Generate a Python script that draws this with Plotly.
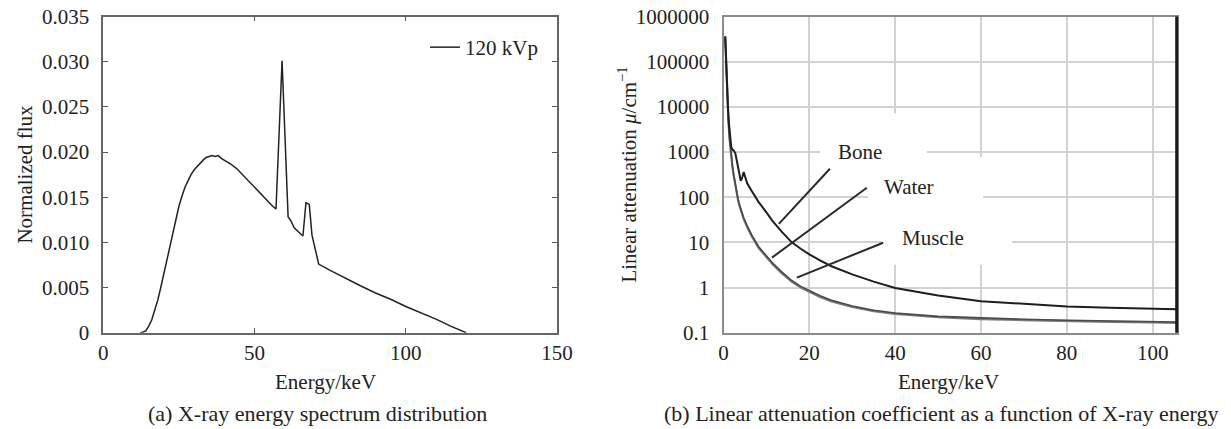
import plotly.graph_objects as go
import math

# ---------------- data ----------------
# (a) X-ray energy spectrum, 120 kVp
spec_energy = [12.2, 13, 14, 15, 16, 17, 18, 19, 20, 21, 22, 23, 24, 25, 26, 27, 28,
               29, 30, 31, 32, 33, 34, 35, 36, 37, 38, 39, 40, 42, 44, 46, 48, 50, 52,
               54, 56, 57.1, 59.1, 61.1, 62.0, 63.1, 66.0, 67.0, 68.1, 69.0, 70.1, 71.2,
               75, 80.6, 85, 90, 95, 100, 105, 110, 115, 120]
spec_flux = [0, 0.00005, 0.0002, 0.0007, 0.0014, 0.0024, 0.0036, 0.0050, 0.0065,
             0.0080, 0.0096, 0.0112, 0.0127, 0.0140, 0.0151, 0.0161, 0.0168, 0.0175,
             0.0180, 0.0184, 0.0188, 0.0191, 0.0194, 0.0195, 0.0196, 0.0195, 0.0196,
             0.0193, 0.0191, 0.0187, 0.0182, 0.0175, 0.0167, 0.0161, 0.0153, 0.0146,
             0.0140, 0.0137, 0.0301, 0.0128, 0.0124, 0.0116, 0.0107, 0.0144, 0.0142,
             0.0108, 0.0093, 0.0076, 0.0069, 0.0059, 0.0052, 0.0044, 0.0037, 0.0029,
             0.0022, 0.0015, 0.0007, 0]
spec_name = "120 kVp"
spec_xticks = [0, 50, 100, 150]
spec_yticks = [0, 0.005, 0.010, 0.015, 0.020, 0.025, 0.030, 0.035]
spec_yticktext = ["0", "0.005", "0.010", "0.015", "0.020", "0.025", "0.030", "0.035"]

# (b) linear attenuation coefficient
att_energy = [0.4, 0.6, 0.8, 1.0, 1.2, 1.4, 1.6, 1.8, 2.1, 2.4, 2.75, 3.1, 3.4, 3.7, 4.0,
              4.3, 4.7, 5.5, 6.5, 8.2, 10, 11.4, 13.5, 15.9, 18, 20, 22.5, 25, 30, 35,
              40, 50, 60, 70, 80, 90, 100, 105.6]
att_bone = [3.6e5, 9e4, 2.8e4, 1.1e4, 5000, 2700, 1600, 1300, 1130, 1070, 950, 680, 470,
            330, 230, 260, 360, 205, 140, 78, 46, 30, 17.5, 10, 7.2, 5.4, 4.0, 3.0, 1.95,
            1.35, 0.98, 0.67, 0.50, 0.43, 0.38, 0.355, 0.337, 0.33]
att_water = [3.6e5, 8.5e4, 2.5e4, 9000, 4000, 2000, 1150, 750, 450, 290, 185, 110, 85,
             66, 52, 42, 33, 22, 14, 7.5, 4.6, 3.3, 2.1, 1.35, 1.0, 0.8, 0.62, 0.5, 0.37,
             0.30, 0.26, 0.22, 0.20, 0.19, 0.18, 0.174, 0.168, 0.165]
att_muscle = [3.6e5, 8.8e4, 2.6e4, 9400, 4200, 2100, 1200, 790, 475, 305, 195, 118, 90,
              70, 55, 45, 35, 23.5, 15, 8.0, 4.9, 3.5, 2.25, 1.43, 1.06, 0.85, 0.66, 0.53,
              0.39, 0.315, 0.273, 0.23, 0.21, 0.198, 0.188, 0.181, 0.175, 0.172]
att_xticks = [0, 20, 40, 60, 80, 100]
att_yticks = [0.1, 1, 10, 100, 1000, 10000, 100000, 1000000]
att_yticktext = ["0.1", "1", "10", "100", "1000", "10000", "100000", "1000000"]

# labels of the curves: text, text anchor (x, y), leader line (x0, y0, x1, y1)
curve_labels = ["Bone", "Water", "Muscle"]
label_x = [26.2, 37.0, 41.1]
label_y = [980, 164, 12.6]
leader_x0 = [24.8, 33.4, 37.2]
leader_y0 = [427, 162, 9.8]
leader_x1 = [12.9, 11.3, 17.1]
leader_y1 = [25.7, 4.6, 1.66]
# white label boxes (x0, x1, y0, y1)
box_x0 = [22.5, 33.7, 36.9]
box_x1 = [47.4, 60.5, 67.2]
box_y0 = [436, 45.6, 3.19]
box_y1 = [7240, 762, 50.5]

captions = ["(a) X-ray energy spectrum distribution",
            "(b) Linear attenuation coefficient as a function of X-ray energy"]

# ---------------- figure ----------------
W, H = 1231, 429
FONT = "Liberation Serif, Times New Roman, serif"
TXT = "#222222"
TS = 21  # tick / label font size


def fx(p):
    return p / W


def fy(p):
    return 1 - p / H


ax1 = [fx(103.3), fx(557)]
ax2 = [fx(723.5), fx(1176.7)]
ydom = [fy(332.7), fy(16.5)]

fig = go.Figure()
fig.add_trace(go.Scatter(x=spec_energy, y=spec_flux, mode="lines", name=spec_name,
                         line=dict(color="#222222", width=1.5), xaxis="x", yaxis="y"))
fig.add_trace(go.Scatter(x=att_energy, y=att_water, mode="lines", name="Water",
                         line=dict(color="#7a7a7a", width=2.2), xaxis="x2", yaxis="y2",
                         showlegend=False))
fig.add_trace(go.Scatter(x=att_energy, y=att_muscle, mode="lines", name="Muscle",
                         line=dict(color="#4a4a4a", width=1.6), xaxis="x2", yaxis="y2",
                         showlegend=False))
fig.add_trace(go.Scatter(x=att_energy, y=att_bone, mode="lines", name="Bone",
                         line=dict(color="#1e1e1e", width=2), xaxis="x2", yaxis="y2",
                         showlegend=False))

shapes = []
for i in range(len(curve_labels)):
    shapes.append(dict(type="rect", xref="x2", yref="y2", x0=box_x0[i], x1=box_x1[i],
                       y0=box_y0[i], y1=box_y1[i], fillcolor="white",
                       line=dict(width=0), layer="between"))
for i in range(len(curve_labels)):
    shapes.append(dict(type="line", xref="x2", yref="y2", x0=leader_x0[i], y0=leader_y0[i],
                       x1=leader_x1[i], y1=leader_y1[i],
                       line=dict(color="#2a2a2a", width=2)))
# dark right border of panel (b)
shapes.append(dict(type="line", xref="x2 domain", yref="y2 domain", x0=1, x1=1, y0=0, y1=1,
                   line=dict(color="#1a1a1a", width=3)))

annotations = []
for i, t in enumerate(curve_labels):
    annotations.append(dict(text=t, xref="x2", yref="y2", x=label_x[i],
                            y=math.log10(label_y[i]), xanchor="left", yanchor="middle",
                            showarrow=False, font=dict(size=TS, color=TXT, family=FONT)))


def paper_text(text, px, py, angle=0, size=TS):
    return dict(text=text, xref="paper", yref="paper", x=fx(px), y=fy(py),
                xanchor="center", yanchor="middle", showarrow=False, textangle=angle,
                font=dict(size=size, color=TXT, family=FONT))


annotations += [
    paper_text("Normalized flux", 25, 174.6, -90),
    paper_text("Energy/keV", 326, 381.5),
    paper_text("Linear attenuation <i>μ</i>/cm<sup>−1</sup>", 628, 174.6, -90),
    paper_text("Energy/keV", 948, 381.5),
    paper_text(captions[0], 317, 413, size=22),
    paper_text(captions[1], 941, 413, size=22),
]

tickfont = dict(size=TS, color=TXT, family=FONT)

fig.update_layout(
    width=W, height=H,
    margin=dict(l=0, r=0, t=0, b=0, autoexpand=False),
    paper_bgcolor="white", plot_bgcolor="white",
    font=dict(family=FONT, size=TS, color=TXT),
    showlegend=True,
    legend=dict(x=fx(425), y=fy(27), xanchor="left", yanchor="top",
                bgcolor="rgba(0,0,0,0)", font=dict(size=TS, color=TXT, family=FONT)),
    xaxis=dict(domain=ax1, range=[0, 150], tickvals=spec_xticks, ticks="inside", ticklen=5,
               tickcolor="#555555", mirror="ticks", linecolor="#666666", linewidth=1.5,
               anchor="y", ticklabelstandoff=0, automargin=False, showgrid=False,
               zeroline=False, showline=True, tickfont=tickfont,
               ticklabeloverflow="allow"),
    yaxis=dict(domain=ydom, range=[0, 0.035], tickvals=spec_yticks, ticktext=spec_yticktext,
               ticks="inside", ticklen=5, tickcolor="#555555", mirror="ticks",
               linecolor="#666666", linewidth=1.5, anchor="x", ticklabelstandoff=8,
               automargin=False, showgrid=False, zeroline=False, showline=True,
               tickfont=tickfont, ticklabeloverflow="allow"),
    xaxis2=dict(domain=ax2, range=[0, 105.6], tickvals=att_xticks, ticks="", anchor="y2",
                showgrid=True, gridcolor="#d2d2d2", gridwidth=1.5, zeroline=False,
                showline=True, linecolor="#8c8c8c", linewidth=2, mirror=True,
                ticklabelstandoff=0, automargin=False, tickfont=tickfont,
                ticklabeloverflow="allow"),
    yaxis2=dict(domain=ydom, type="log", range=[-1, 6], tickvals=att_yticks,
                ticktext=att_yticktext, ticks="", anchor="x2", showgrid=True,
                gridcolor="#d2d2d2", gridwidth=1.5, zeroline=False, showline=True,
                linecolor="#8c8c8c", linewidth=2, mirror=True, ticklabelstandoff=8,
                automargin=False, tickfont=tickfont, ticklabeloverflow="allow"),
    shapes=shapes,
    annotations=annotations,
)

# remove the browser's default 8 px page margin so the figure fills the window
fig.write_html("out.html", config={"displayModeBar": False},
               post_script="document.body.style.margin='0px';")
